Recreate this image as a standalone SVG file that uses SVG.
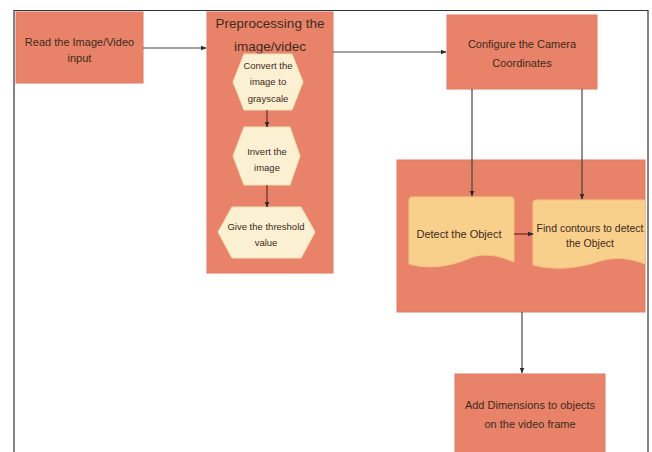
<svg xmlns="http://www.w3.org/2000/svg" width="652" height="452" viewBox="0 0 652 452">
<defs>
<marker id="ah" viewBox="0 0 10 10" refX="9" refY="5" markerWidth="6" markerHeight="6" orient="auto" markerUnits="userSpaceOnUse">
<path d="M0,1 L10,5 L0,9 Z" fill="#2a2a2a"/>
</marker>
<style>
.box{fill:#E8836A;stroke:#E07A60;stroke-width:1}
.hex{fill:#FBF0D2;stroke:#F3E2B8;stroke-width:1;stroke-linejoin:round}
.doc{fill:#F8D08C;stroke:#F2C47E;stroke-width:1}
.t{font-family:"Liberation Sans",Arial,sans-serif;font-size:11px;fill:#3e2a1c;text-anchor:middle}
.ts{font-family:"Liberation Sans",Arial,sans-serif;font-size:9.5px;fill:#3e2a1c;text-anchor:middle}
.tt{font-family:"Liberation Sans",Arial,sans-serif;font-size:13.5px;fill:#3e2a1c;text-anchor:middle}
.ln{stroke:#444;stroke-width:1.2;fill:none}
.ln2{stroke:#6a2a20;stroke-width:1.2;fill:none}
</style>
</defs>
<rect width="652" height="452" fill="#ffffff"/>
<path d="M14,452 V10.5 H648 V452" fill="none" stroke="#333" stroke-width="1.2"/>

<g id="read">
<rect class="box" x="16" y="12" width="127" height="71"/>
<text class="t" x="79.5" y="46">Read the Image/Video</text>
<text class="t" x="79.5" y="62">input</text>
</g>

<g id="preprocessing">
<rect class="box" x="207" y="12" width="126" height="261"/>
<text class="tt" x="270" y="28">Preprocessing the</text>
<text class="tt" x="270" y="51">image/videc</text>
</g>

<g id="convert">
<polygon class="hex" points="244,54 292,54 303,82 292,110 244,110 233,82"/>
<text class="ts" x="268" y="69">Convert the</text>
<text class="ts" x="268" y="85">image to</text>
<text class="ts" x="268" y="102">grayscale</text>
</g>

<g id="invert">
<polygon class="hex" points="244,127 290,127 300,156 290,185 244,185 233,156"/>
<text class="ts" x="267" y="155">Invert the</text>
<text class="ts" x="267" y="171">image</text>
</g>

<g id="threshold">
<polygon class="hex" points="232,207 301,207 315,232 301,258 232,258 218,232"/>
<text class="ts" x="266" y="230">Give the threshold</text>
<text class="ts" x="266" y="246">value</text>
</g>

<g id="configure">
<rect class="box" x="447" y="15" width="150" height="74"/>
<text class="t" x="522" y="48">Configure the Camera</text>
<text class="t" x="522" y="67">Coordinates</text>
</g>

<g id="detection-group">
<rect class="box" x="397" y="160" width="248" height="152"/>
</g>

<g id="detect">
<path class="doc" d="M412,197 H511 Q514,197 514,200 V262 C500,256 485,252 470,258 C452,266 430,270 409,264 V200 Q409,197 412,197 Z"/>
<text class="t" x="459" y="238">Detect the Object</text>
</g>

<g id="contours">
<path class="doc" d="M536,200 H645 V264 C632,259 618,256 600,261 C580,268 555,271 533,265 V203 Q533,200 536,200 Z"/>
<text class="t" x="590" y="232" style="font-size:10.5px">Find contours to detect</text>
<text class="t" x="590" y="247" style="font-size:10.5px">the Object</text>
</g>

<g id="dimensions">
<rect class="box" x="455" y="374" width="150" height="80"/>
<text class="t" x="530" y="409">Add Dimensions to objects</text>
<text class="t" x="530" y="428">on the video frame</text>
</g>

<g id="connectors">
<line class="ln" x1="143" y1="48" x2="206" y2="48" marker-end="url(#ah)"/>
<line class="ln" x1="333" y1="52" x2="446" y2="52" marker-end="url(#ah)"/>
<line class="ln2" x1="267" y1="110" x2="267" y2="127" marker-end="url(#ah)"/>
<line class="ln2" x1="267" y1="185" x2="267" y2="207" marker-end="url(#ah)"/>
<line class="ln" x1="472" y1="89" x2="472" y2="196" marker-end="url(#ah)"/>
<line class="ln" x1="582" y1="89" x2="582" y2="199" marker-end="url(#ah)"/>
<line class="ln2" x1="514" y1="234" x2="533" y2="234" marker-end="url(#ah)"/>
<line class="ln" x1="522" y1="312" x2="522" y2="373" marker-end="url(#ah)"/>
</g>
</svg>
